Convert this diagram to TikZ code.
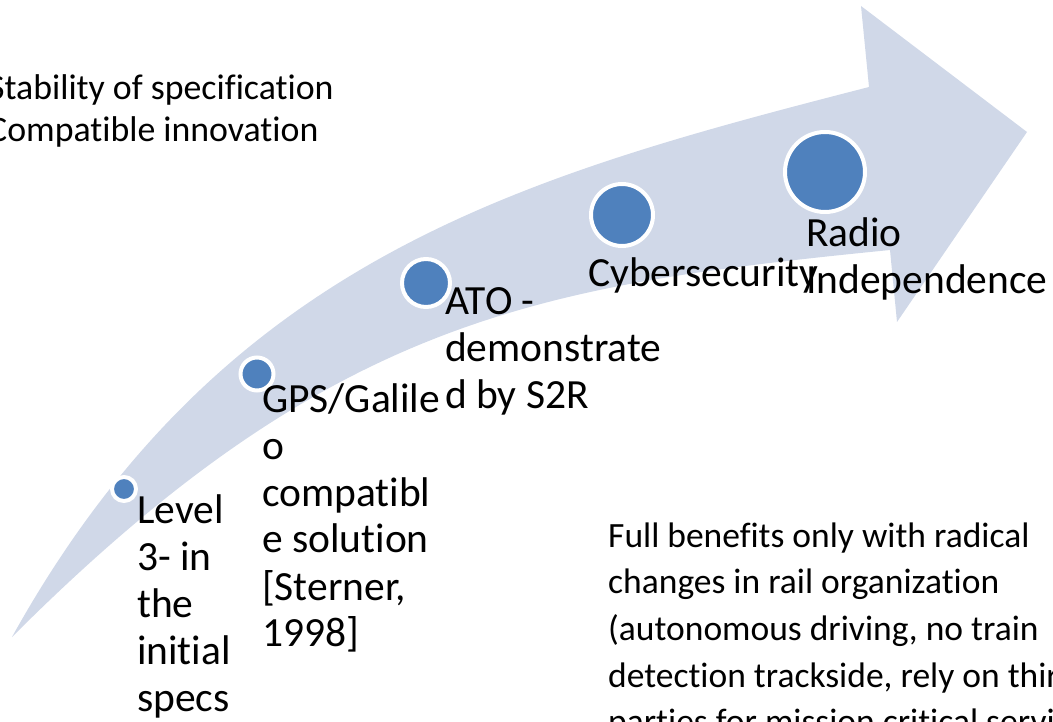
\documentclass[tikz,border=0pt]{standalone}
\usepackage{fontspec}
\setmainfont{Carlito}[Ligatures=NoCommon]
\definecolor{arrowfill}{RGB}{208,216,232}
\definecolor{dotblue}{RGB}{79,129,189}
\newcommand{\rowsL}[1]{\vtop{\halign{##\hfil\cr#1\crcr}}}
\begin{document}
\begin{tikzpicture}[x=1pt,y=-1pt,
  dot/.style={circle, fill=dotblue, draw=white, line width=4pt, inner sep=0pt},
  lbl/.style={anchor=base west, inner sep=0pt, font=\fontsize{41.5}{47}\selectfont},
  note/.style={anchor=base west, inner sep=0pt}]
\useasboundingbox (0,0) rectangle (1053,722);
\clip (0,0) rectangle (1053,722);
\fill[arrowfill] (12,637) .. controls (332,317) and (540,285) .. (890,250)
  -- (897,322) -- (1027,132) -- (861,6) -- (869,87)
  .. controls (519,177) and (222,259) .. (12,637) -- cycle;
\node[dot, minimum size=24pt] (n1) at (124,489) {};
\node[dot, minimum size=33pt] (n2) at (257,374) {};
\node[dot, minimum size=48pt] (n3) at (426,283) {};
\node[dot, minimum size=62pt] (n4) at (622,215) {};
\node[dot, minimum size=80pt] (n5) at (825,172) {};
\node[lbl] (l1) at (137,523) {\rowsL{Level\cr 3- in\cr the\cr initial\cr specs}};
\node[lbl] (l2) at (262,412) {\rowsL{GPS/Galile\cr o\cr compatibl\cr e solution\cr [Sterner,\cr 1998]}};
\node[lbl] (l3) at (445,315) {\rowsL{ATO -\cr demonstrate\cr d by S2R}};
\node[lbl] (l4) at (588,287) {Cybersecurity};
\node[lbl] (l5) at (806,247) {\rowsL{Radio\cr Independence}};
\node[note, font=\fontsize{35.8}{42}\selectfont] (tl) at (-12,100) {\rowsL{Stability of specification\cr Compatible innovation}};
\node[note, font=\fontsize{35.5}{46.7}\selectfont] (fb) at (608,547) {\rowsL{Full benefits only with radical\cr changes in rail organization\cr (autonomous driving, no train\cr detection trackside, rely on third\cr parties for mission critical services)}};
\end{tikzpicture}
\end{document}
